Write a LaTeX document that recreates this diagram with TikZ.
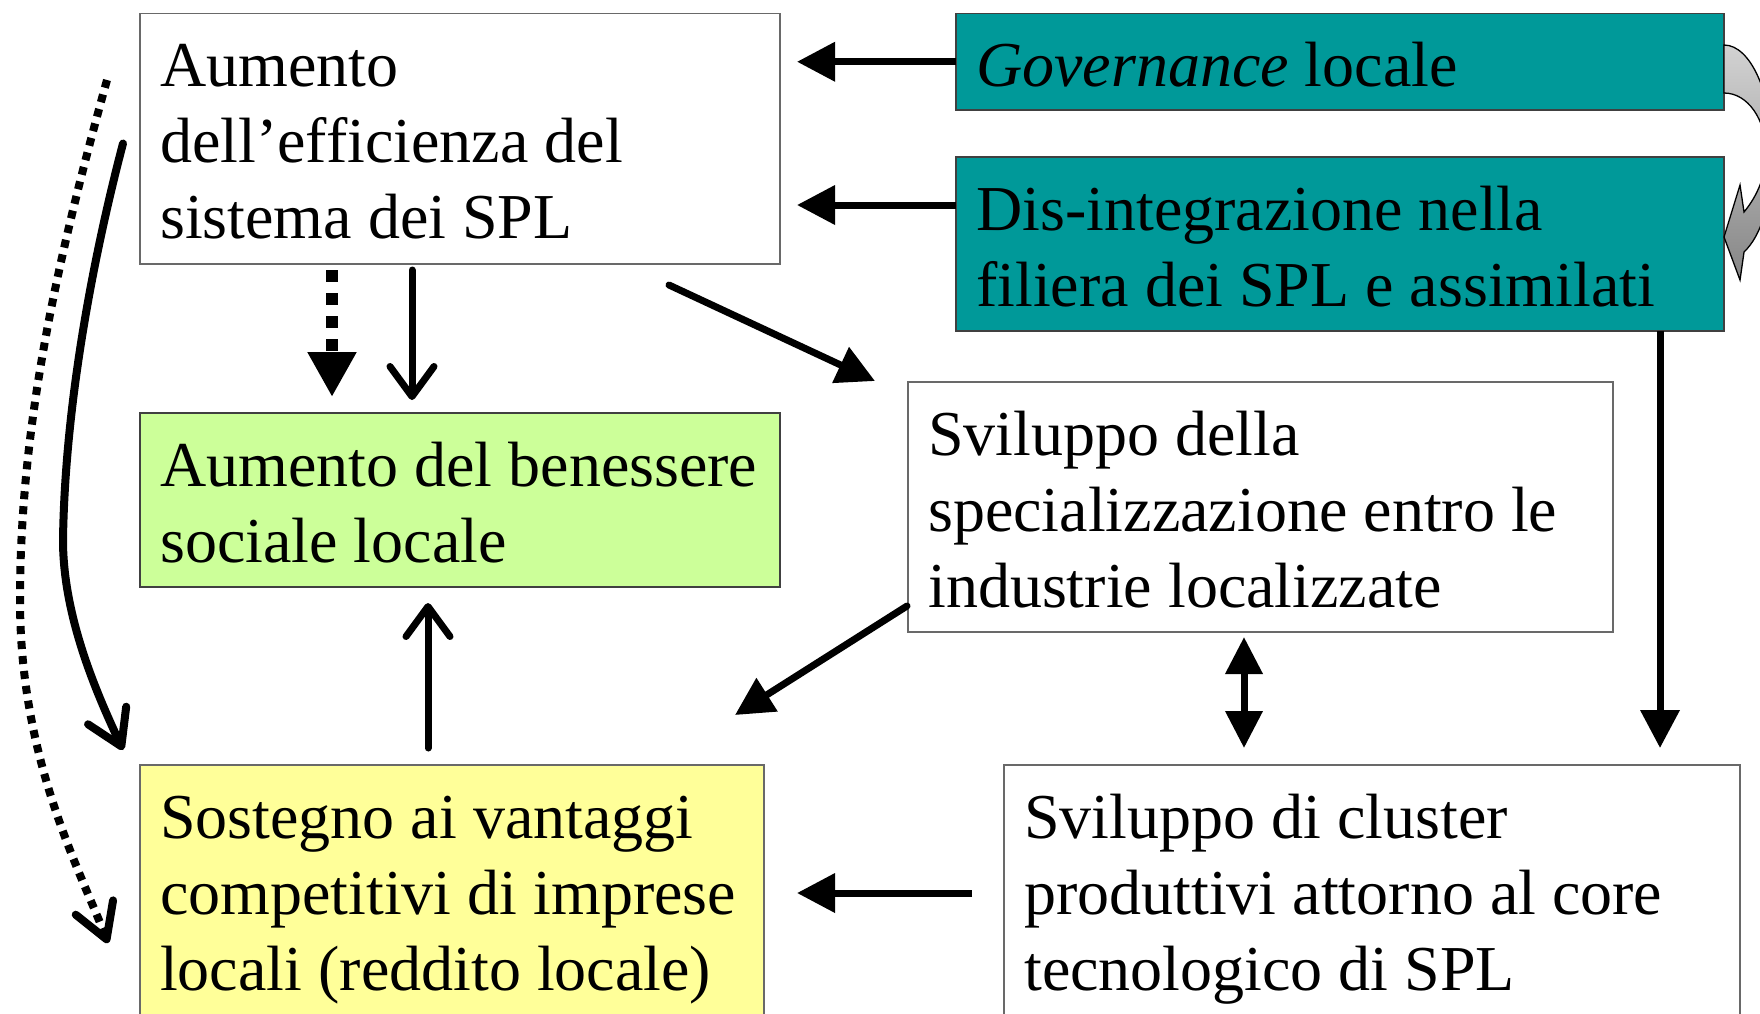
\documentclass[tikz,border=0pt]{standalone}
\usepackage{fontspec}
\setmainfont{Liberation Serif}
\usetikzlibrary{arrows.meta,calc}
\definecolor{tealbox}{RGB}{0,153,153}
\definecolor{greenbox}{RGB}{204,255,153}
\definecolor{yellowbox}{RGB}{255,255,153}
\definecolor{edgegray}{RGB}{105,105,105}
\begin{document}
\begin{tikzpicture}[x=1pt,y=-1pt,
  box/.style={draw=edgegray, line width=1.5pt, anchor=north west, inner sep=0pt, outer sep=0pt, rectangle},
  txt/.style={anchor=north west, inner sep=0pt, align=left, font=\fontsize{64}{76}\selectfont},
  arrF/.style={line width=7pt, -{Triangle[length=38pt,width=38pt]}},
  arrO/.style={line width=7pt, line cap=round, -{Straight Barb[length=30pt,width=44pt,round]}},
  arrD/.style={line width=7pt, {Triangle[length=37pt,width=36pt]}-{Triangle[length=37pt,width=36pt]}},
]
\useasboundingbox (0,0) rectangle (1760,1013);
\clip (0,0) rectangle (1760,1013);

% boxes
\node[box, fill=white, minimum width=640pt, minimum height=250.5pt] (A) at (140,13.5) {};
\node[box, fill=tealbox, draw=black!75, minimum width=768pt, minimum height=96.5pt] (G) at (956,13.5) {};
\node[box, fill=tealbox, draw=black!75, minimum width=768pt, minimum height=174pt] (D) at (956,157) {};
\node[box, fill=greenbox, draw=black!75, minimum width=640pt, minimum height=174pt] (B) at (140,413) {};
\node[box, fill=white, minimum width=705pt, minimum height=250pt] (S) at (908,382) {};
\node[box, fill=yellowbox, minimum width=624pt, minimum height=300pt] (Y) at (140,765) {};
\node[box, fill=white, minimum width=736pt, minimum height=300pt] (C) at (1004,765) {};

% texts
\node[txt] (At) at ($(A.north west)+(20,19.8)$) {\strut Aumento\\dell’efficienza del\\sistema dei SPL};
\node[txt] (Gt) at ($(G.north west)+(20,19.8)$) {\strut\textit{Governance} locale};
\node[txt] (Dt) at ($(D.north west)+(20,19.8)$) {\strut Dis-integrazione nella\\filiera dei SPL e assimilati};
\node[txt] (Bt) at ($(B.north west)+(20,19.8)$) {\strut Aumento del benessere\\sociale locale};
\node[txt] (St) at ($(S.north west)+(20,19.8)$) {\strut Sviluppo della\\specializzazione entro le\\industrie localizzate};
\node[txt] (Yt) at ($(Y.north west)+(20,19.8)$) {\strut Sostegno ai vantaggi\\competitivi di imprese\\locali (reddito locale)};
\node[txt] (Ct) at ($(C.north west)+(20,19.8)$) {\strut Sviluppo di cluster\\produttivi attorno al core\\tecnologico di SPL};

% gray curved arrow (Governance -> Dis-integrazione)
\shade[top color=gray!35, bottom color=gray!95, draw=black, line width=1.3pt]
  (G.north east |- 0,45) .. controls (1751,45) and (1772,95) .. (1772,150)
  .. controls (1772,200) and (1762,235) .. (1744,252)
  -- (1740,280) -- (D.east |- 0,237) -- (1740,185) -- (1744,212)
  .. controls (1758,195) and (1766,175) .. (1766,152)
  .. controls (1766,120) and (1748,93) .. (G.north east |- 0,93) -- cycle;

% straight connectors
\draw[arrF] (G.west) -- ($(A.east |- G.west)+(17,0)$);
\draw[arrF] ($(D.north west)+(0,48)$) -- ($(A.north east)+(17,191.5)$);
\draw[line width=12pt, dash pattern=on 12pt off 11pt, -{Triangle[length=45pt,width=46pt]}]
  ($(A.south west)+(192,6)$) -- ($(B.north west)+(192,-16)$);
\draw[arrO] ($(A.south west)+(272,6)$) -- ($(B.north west)+(272,-13)$);
\draw[arrF, line cap=round] ($(A.south east)+(-111,21)$) -- ($(S.north west)+(-33,-1)$);
\draw[arrF, line cap=round] ($(S.south west)+(-1,-26)$) -- ($(Y.north east)+(-29,-50)$);
\draw[arrD] ($(S.south west)+(336,5)$) -- ($(C.north west)+(240,-17)$);
\draw[arrF] ($(D.south west)+(704,0)$) -- ($(C.north west)+(656,-17)$);
\draw[arrO] ($(Y.north west)+(288,-17)$) -- ($(B.south west)+(288,16)$);
\draw[arrF] ($(C.north west)+(-32,128)$) -- ($(Y.north east)+(33,128)$);

% curved connectors on the left
\draw[line width=8pt, line cap=round, -{Straight Barb[length=34pt,width=42pt,round]}]
  ($(A.north west)+(-17,130)$) .. controls (95,250) and (65,400) .. (63,540)
  .. controls (63,620) and (100,700) .. ($(Y.north west)+(-17,-15)$);
\draw[line width=8pt, dash pattern=on 8pt off 7pt, -{Straight Barb[length=34pt,width=40pt,round]}]
  ($(A.north west)+(-33,66.5)$) .. controls (60,250) and (20,420) .. (20,600)
  .. controls (20,760) and (80,870) .. ($(Y.north west)+(-32,178)$);
\end{tikzpicture}
\end{document}
